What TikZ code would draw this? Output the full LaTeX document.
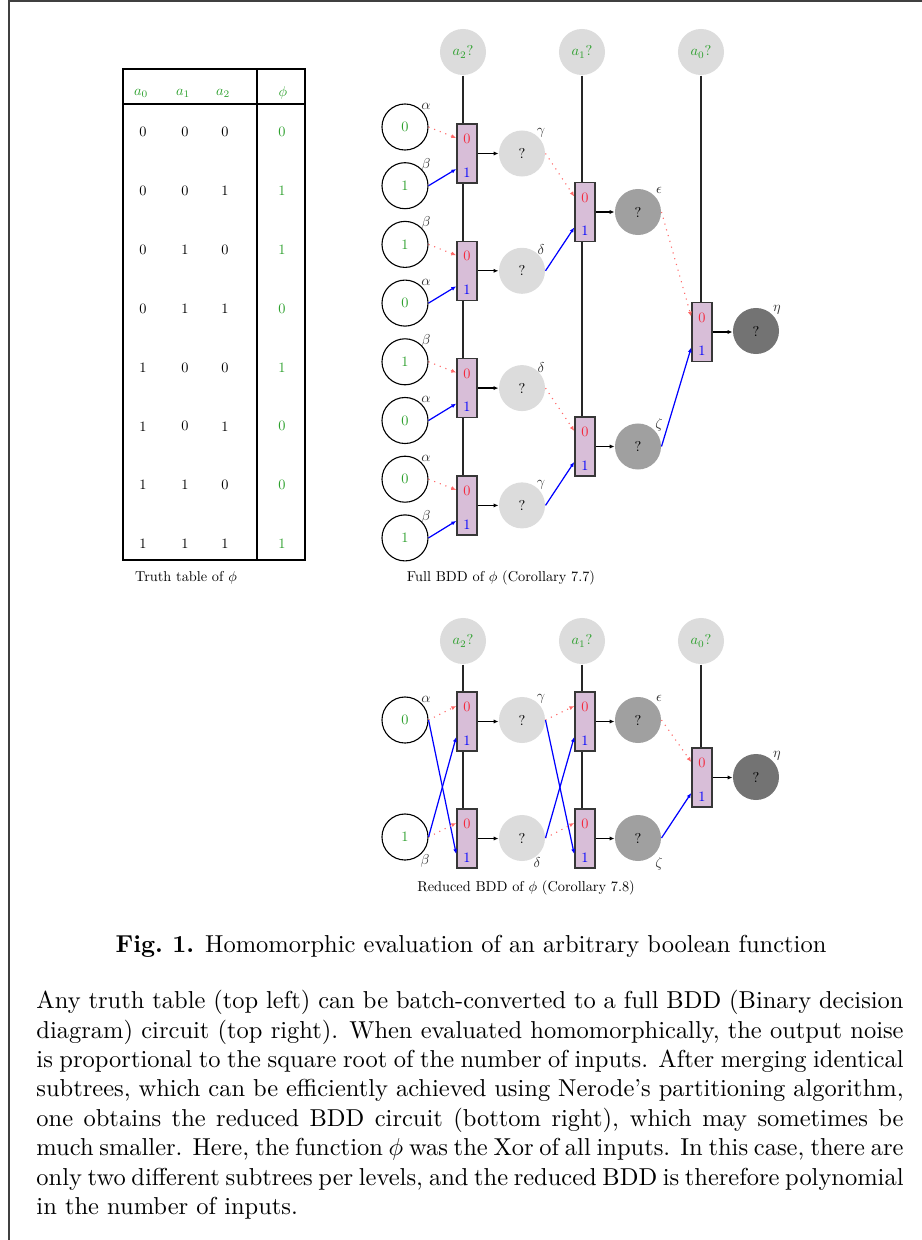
\RequirePackage{fix-cm}
\documentclass[tikz,border=0pt]{standalone}
\usepackage{graphicx}
\usetikzlibrary{calc,arrows.meta,backgrounds}

\definecolor{tgreen}{RGB}{44,160,44}
\definecolor{muxfill}{RGB}{216,190,216}
\definecolor{muxline}{RGB}{55,55,55}
\definecolor{zred}{RGB}{245,40,60}
\definecolor{zline}{RGB}{255,105,105}
\definecolor{qlight}{RGB}{220,220,220}
\definecolor{qmid}{RGB}{160,160,160}
\definecolor{qdark}{RGB}{115,115,115}

% small diagram lettering: 10pt design, reduced
\newcommand{\dt}[1]{\scalebox{0.585}{#1}}

\tikzset{
  tip/.style={-{Latex[length=2pt,width=1.7pt]}},
  inp/.style={circle, draw=black, line width=0.45pt, fill=white,
    minimum size=18.8pt, inner sep=0pt, text=tgreen},
  selq/.style={circle, fill=qlight, minimum size=18.8pt, inner sep=0pt, text=tgreen},
  lq/.style={circle, fill=qlight, minimum size=18.8pt, inner sep=0pt},
  mq/.style={circle, fill=qmid, minimum size=18.8pt, inner sep=0pt},
  dq/.style={circle, fill=qdark, minimum size=18.8pt, inner sep=0pt},
  mux/.style={rectangle, draw=muxline, line width=0.6pt, fill=muxfill,
    minimum width=8.2pt, minimum height=24.1pt, inner sep=0pt},
  zlab/.style={text=zred, inner sep=0pt},
  olab/.style={text=blue, inner sep=0pt},
  glab/.style={text=black!80, inner sep=0pt},
  zero/.style={zline, dotted, line width=0.45pt, tip},
  one/.style={blue, line width=0.5pt, tip},
  outw/.style={black, line width=0.5pt, tip},
  selw/.style={black!85, line width=0.5pt},
  tline/.style={black, line width=0.6pt},
}

% a multiplexer box with its two data inputs and the labels 0 / 1
\newcommand{\muxnode}[3]{%
  \node[mux] (#1) at (#2,{#3}) {};
  \node[zlab] (#1-zl) at ($(#1.center)+(0,-14.5)$) {\dt{0}};
  \node[olab] (#1-ol) at ($(#1.center)+(0,19)$) {\dt{1}};
  \coordinate (#1-in0) at ($(#1.west)+(0,-15.5)$);
  \coordinate (#1-in1) at ($(#1.west)+(0,15.5)$);
}

\begin{document}
\begin{tikzpicture}[x=0.4085pt,y=-0.4085pt,font=\fontsize{10}{12}\selectfont]
\useasboundingbox (0,0) rectangle (922,1240);

% frame
\draw[black!75, line width=0.5pt] (9,1240) -- (9,1) -- (922,1);

% ---------------- truth table ----------------
\draw[tline] (123,69) rectangle (305,560);
\draw[tline] (123,104) -- (305,104);
\draw[tline] (257,69) -- (257,560);
\node[text=tgreen] (h0) at (141,93) {\dt{$a_0$}};
\node[text=tgreen] (h1) at (183,93) {\dt{$a_1$}};
\node[text=tgreen] (h2) at (223,93) {\dt{$a_2$}};
\node[text=tgreen] (hf) at (283,93) {\dt{$\phi$}};
\foreach \r/\a/\b/\c/\f in {0/0/0/0/0,1/0/0/1/1,2/0/1/0/1,3/0/1/1/0,
                            4/1/0/0/1,5/1/0/1/0,6/1/1/0/0,7/1/1/1/1} {
  \node (ta\r) at (143,{132+58.85*\r}) {\dt{\a}};
  \node (tb\r) at (185,{132+58.85*\r}) {\dt{\b}};
  \node (tc\r) at (225,{132+58.85*\r}) {\dt{\c}};
  \node[text=tgreen] (tf\r) at (282,{132+58.85*\r}) {\dt{\f}};
}
\node (tcap) at (186,578) {\dt{Truth table of $\phi$}};

% ---------------- full BDD ----------------
\node[selq] (s2) at (463,52) {\dt{$a_2$?}};
\node[selq] (s1) at (582,52) {\dt{$a_1$?}};
\node[selq] (s0) at (701,52) {\dt{$a_0$?}};

\foreach \k/\v/\g in {1/0/\alpha,2/1/\beta,3/1/\beta,4/0/\alpha,
                      5/1/\beta,6/0/\alpha,7/0/\alpha,8/1/\beta} {
  \node[inp] (i\k) at (405,{127+58.7*(\k-1)}) {\dt{\v}};
  \node[glab] (i\k-l) at ($(i\k)+(21,-21)$) {\dt{$\g$}};
}

\foreach \k/\g in {1/\gamma,2/\delta,3/\delta,4/\gamma} {
  \muxnode{m\k}{467}{153.5+117.3*(\k-1)}
  \node[lq] (g\k) at (522,{153.5+117.3*(\k-1)}) {\dt{?}};
  \node[glab] (g\k-l) at ($(g\k)+(19,-21)$) {\dt{$\g$}};
  \draw[outw] (m\k.east) -- (m\k.east -| g\k.west);
}
\foreach \k [evaluate=\k as \a using int(2*\k-1), evaluate=\k as \b using int(2*\k)] in {1,2,3,4} {
  \draw[zero] (i\a.east) -- (m\k-in0);
  \draw[one]  (i\b.east) -- (m\k-in1);
}

\muxnode{n1}{585}{212}
\muxnode{n2}{585}{446.5}
\node[mq] (e1) at (638,212) {\dt{?}};
\node[mq] (e2) at (638,446.5) {\dt{?}};
\node[glab] (e1-l) at ($(e1)+(21,-22)$) {\dt{$\epsilon$}};
\node[glab] (e2-l) at ($(e2)+(21,-22)$) {\dt{$\zeta$}};
\draw[outw] (n1.east) -- (n1.east -| e1.west);
\draw[outw] (n2.east) -- (n2.east -| e2.west);
\draw[zero] (g1.east) -- (n1-in0);
\draw[one]  (g2.east) -- (n1-in1);
\draw[zero] (g3.east) -- (n2-in0);
\draw[one]  (g4.east) -- (n2-in1);

\muxnode{o}{702}{332}
\node[dq] (h) at (756,331) {\dt{?}};
\node[glab] (h-l) at ($(h)+(21,-21)$) {\dt{$\eta$}};
\draw[outw] (o.east) -- (o.east -| h.west);
\draw[zero] (e1.east) -- (o-in0);
\draw[one]  (e2.east) -- (o-in1);

\begin{scope}[on background layer]
  \draw[selw] (s2.south) -- (s2.south |- m4.south);
  \draw[selw] (s1.south) -- (s1.south |- n2.south);
  \draw[selw] (s0.south) -- (s0.south |- o.south);
\end{scope}

\node (fcap) at (501,578) {\dt{Full BDD of $\phi$ (Corollary 7.7)}};

% ---------------- reduced BDD ----------------
\node[selq] (t2) at (463,641) {\dt{$a_2$?}};
\node[selq] (t1) at (582,641) {\dt{$a_1$?}};
\node[selq] (t0) at (701,641) {\dt{$a_0$?}};

\node[inp] (r1) at (405,720) {\dt{0}};
\node[inp] (r2) at (405,837) {\dt{1}};
\node[glab] (r1-l) at ($(r1)+(21,-21)$) {\dt{$\alpha$}};
\node[glab] (r2-l) at ($(r2)+(20,24)$) {\dt{$\beta$}};

\muxnode{p1}{467}{721.5}
\muxnode{p2}{467}{838.5}
\node[lq] (q1) at (522,720) {\dt{?}};
\node[lq] (q2) at (522,838) {\dt{?}};
\node[glab] (q1-l) at ($(q1)+(19,-21)$) {\dt{$\gamma$}};
\node[glab] (q2-l) at ($(q2)+(15,25)$) {\dt{$\delta$}};
\draw[outw] (p1.east) -- (p1.east -| q1.west);
\draw[outw] (p2.east) -- (p2.east -| q2.west);
\draw[zero] (r1.east) -- (p1-in0);
\draw[one]  (r1.east) -- (p2-in1);
\draw[zero] (r2.east) -- (p2-in0);
\draw[one]  (r2.east) -- (p1-in1);

\muxnode{u1}{585}{721.5}
\muxnode{u2}{585}{838.5}
\node[mq] (f1) at (638,720) {\dt{?}};
\node[mq] (f2) at (638,838) {\dt{?}};
\node[glab] (f1-l) at ($(f1)+(21,-22)$) {\dt{$\epsilon$}};
\node[glab] (f2-l) at ($(f2)+(21,26)$) {\dt{$\zeta$}};
\draw[outw] (u1.east) -- (u1.east -| f1.west);
\draw[outw] (u2.east) -- (u2.east -| f2.west);
\draw[zero] (q1.east) -- (u1-in0);
\draw[one]  (q1.east) -- (u2-in1);
\draw[zero] (q2.east) -- (u2-in0);
\draw[one]  (q2.east) -- (u1-in1);

\muxnode{w}{702}{777.5}
\node[dq] (k) at (756,777) {\dt{?}};
\node[glab] (k-l) at ($(k)+(21,-21)$) {\dt{$\eta$}};
\draw[outw] (w.east) -- (w.east -| k.west);
\draw[zero] (f1.east) -- (w-in0);
\draw[one]  (f2.east) -- (w-in1);

\begin{scope}[on background layer]
  \draw[selw] (t2.south) -- (t2.south |- p2.south);
  \draw[selw] (t1.south) -- (t1.south |- u2.south);
  \draw[selw] (t0.south) -- (t0.south |- w.south);
\end{scope}

\node (rcap) at (526,888) {\dt{Reduced BDD of $\phi$ (Corollary 7.8)}};

% ---------------- caption and text ----------------
\node[anchor=base, inner sep=0pt] (cap) at (471,952.4)
  {\textbf{Fig.~1.} Homomorphic evaluation of an arbitrary boolean function};

\node[anchor=north west, inner sep=0pt, text width=354.2pt, align=justify] (body) at (36,990)
  {Any truth table (top left) can be batch-converted to a full BDD (Binary decision\linebreak
   diagram) circuit (top right). When evaluated homomorphically, the output noise\linebreak
   is proportional to the square root of the number of inputs. After merging identical\linebreak
   subtrees, which can be efficiently achieved using Nerode's partitioning algorithm,\linebreak
   one obtains the reduced BDD circuit (bottom right), which may sometimes be\linebreak
   much smaller. Here, the function $\phi$ was the Xor of all inputs. In this case, there are\linebreak
   only two different subtrees per levels, and the reduced BDD is therefore polynomial\linebreak
   in the number of inputs.};
\end{tikzpicture}
\end{document}
